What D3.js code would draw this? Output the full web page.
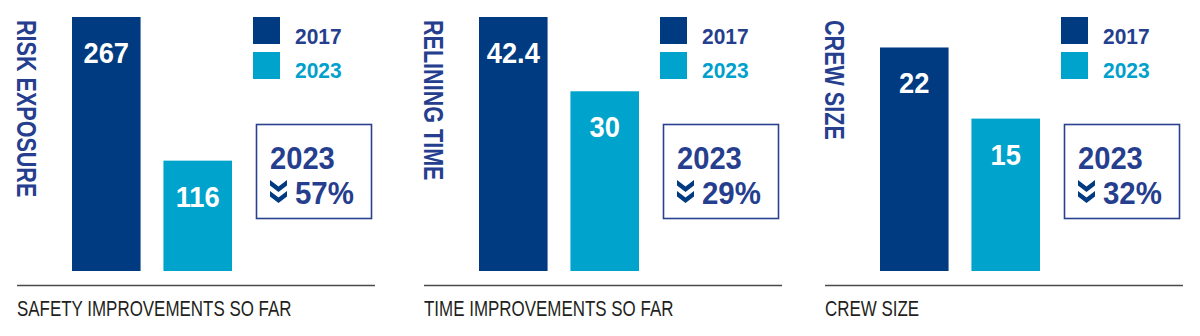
<!DOCTYPE html>
<html>
<head>
<meta charset="utf-8">
<script src="https://cdn.jsdelivr.net/npm/d3@7"></script>
<style>
  html, body { margin: 0; padding: 0; background: #fff; }
  svg { display: block; }
  text { font-family: "Liberation Sans", Arial, sans-serif; }
</style>
</head>
<body>
<svg id="chart" width="1200" height="336"></svg>
<script>
// Chart data
const panelTitles = ["RISK EXPOSURE", "RELINING TIME", "CREW SIZE"];
const panelCaptions = ["SAFETY IMPROVEMENTS SO FAR", "TIME IMPROVEMENTS SO FAR", "CREW SIZE"];
const years = ["2017", "2023"];
const values2017 = [267, 42.4, 22];
const values2023 = [116, 30, 15];
const valueLabels2017 = ["267", "42.4", "22"];
const valueLabels2023 = ["116", "30", "15"];
const scaleMax = [267, 42.4, 25];
const summaryYear = "2023";

// Styling
const NAVY = "#003a80";
const CYAN = "#00a3cb";
const INK = "#263e8e";
const yearColors = [NAVY, CYAN];
const yearTextColors = [INK, "#00a0cc"];
const panelX = [0, 407, 808];

const svg = d3.select("#chart");

// Squeeze glyphs horizontally to get a condensed face
function condense(sel, factor) {
  sel.each(function () {
    const w = this.getComputedTextLength();
    d3.select(this).attr("textLength", w * factor).attr("lengthAdjust", "spacingAndGlyphs");
  });
  return sel;
}

panelTitles.forEach((title, i) => {
  const ox = panelX[i];
  const g = svg.append("g").attr("transform", `translate(${ox},0)`);
  const vals = [values2017[i], values2023[i]];
  const labels = [valueLabels2017[i], valueLabels2023[i]];

  const x = d3.scaleBand().domain(years).range([72, 232]).paddingInner(0.25).paddingOuter(0);
  const y = d3.scaleLinear().domain([0, scaleMax[i]]).range([271, 17]);

  // Vertical title
  condense(g.append("text")
    .attr("transform", "translate(17,20) rotate(90)")
    .attr("font-size", 28).attr("font-weight", "bold")
    .attr("fill", INK)
    .text(title), 0.77);

  // Bars
  g.selectAll("rect.bar").data(years).enter().append("rect")
    .attr("class", "bar")
    .attr("x", d => x(d))
    .attr("width", x.bandwidth())
    .attr("y", (d, k) => y(vals[k]))
    .attr("height", (d, k) => y(0) - y(vals[k]))
    .attr("fill", (d, k) => yearColors[k]);

  // Value labels inside bars
  g.selectAll("text.val").data(years).enter().append("text")
    .attr("class", "val")
    .attr("x", d => x(d) + x.bandwidth() / 2)
    .attr("y", (d, k) => y(vals[k]) + 46)
    .attr("text-anchor", "middle")
    .attr("font-size", 30).attr("font-weight", "bold")
    .attr("fill", "#fff")
    .text((d, k) => labels[k])
    .call(s => condense(s, 0.91));

  // Legend
  const lg = g.append("g");
  lg.selectAll("rect").data(years).enter().append("rect")
    .attr("x", 253).attr("y", (d, k) => 17 + k * 35)
    .attr("width", 27).attr("height", 27)
    .attr("fill", (d, k) => yearColors[k]);
  lg.selectAll("text").data(years).enter().append("text")
    .attr("x", 295).attr("y", (d, k) => 43.5 + k * 34)
    .attr("font-size", 22.5).attr("font-weight", "bold")
    .attr("fill", (d, k) => yearTextColors[k])
    .text(d => d)
    .call(s => condense(s, 0.93));

  // Summary box with percentage change
  g.append("rect")
    .attr("x", 256.5).attr("y", 124.5)
    .attr("width", 115).attr("height", 94)
    .attr("fill", "none").attr("stroke", "#2a4190").attr("stroke-width", 1.6);
  condense(g.append("text")
    .attr("x", 270).attr("y", 168.5)
    .attr("font-size", 32).attr("font-weight", "bold")
    .attr("fill", INK)
    .text(summaryYear), 0.91);

  // Double down-chevron
  const chev = "M0,0 L8.5,6.5 L17,0 L17,5.5 L8.5,12 L0,5.5 Z";
  g.append("path").attr("d", chev).attr("transform", "translate(270,180)").attr("fill", NAVY);
  g.append("path").attr("d", chev).attr("transform", "translate(270,191)").attr("fill", NAVY);

  const pct = Math.round((vals[0] - vals[1]) / vals[0] * 100) + "%";
  condense(g.append("text")
    .attr("x", 295).attr("y", 203.5)
    .attr("font-size", 32).attr("font-weight", "bold")
    .attr("fill", INK)
    .text(pct), 0.92);

  // Baseline rule and caption
  g.append("line")
    .attr("x1", 17).attr("x2", 375)
    .attr("y1", 285.5).attr("y2", 285.5)
    .attr("stroke", "#4a4a4a").attr("stroke-width", 1.5);
  condense(g.append("text")
    .attr("x", 17).attr("y", 316)
    .attr("font-size", 22)
    .attr("fill", "#231f20")
    .text(panelCaptions[i]), 0.77);
});
</script>
</body>
</html>
